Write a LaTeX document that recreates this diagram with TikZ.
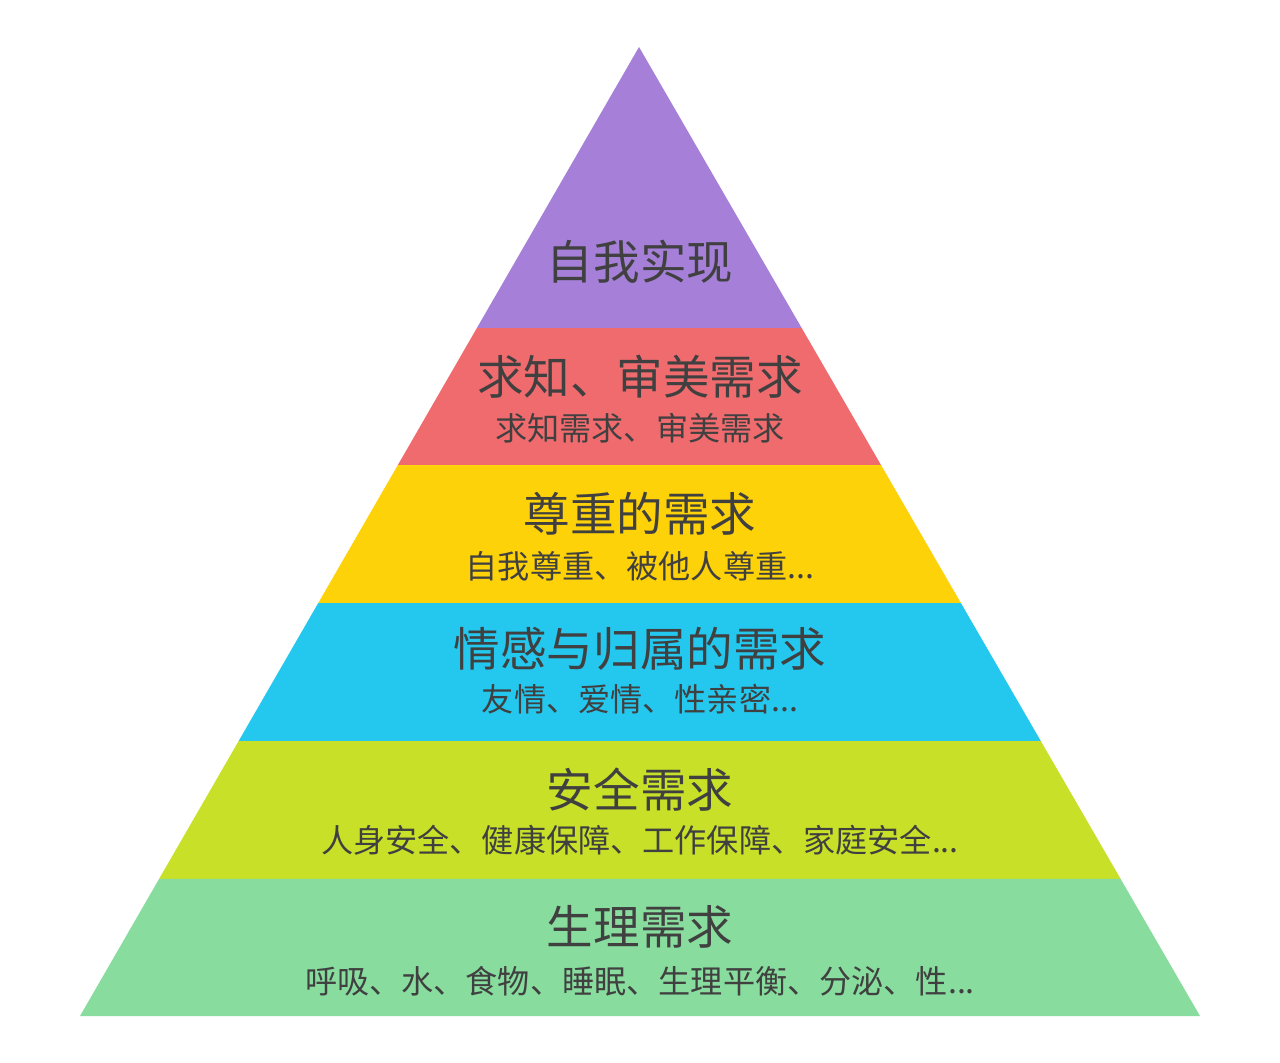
\documentclass[tikz,border=0pt]{standalone}
\usepackage{fontspec}
\setmainfont{Noto Sans CJK SC}
\usepackage{tikz}
\usetikzlibrary{calc}
\definecolor{lavender}{RGB}{165,127,216}
\definecolor{coral}{RGB}{240,107,110}
\definecolor{sunflower}{RGB}{254,210,8}
\definecolor{skyblue}{RGB}{36,200,238}
\definecolor{lime}{RGB}{200,225,40}
\definecolor{mint}{RGB}{136,221,158}
\tikzset{%
    title/.style={font=\fontsize{26.5}{29}\selectfont, text=black!75},
    subtitle/.style={font=\fontsize{18.3}{20}\selectfont, text=black!75}
}

\begin{document}
\begin{tikzpicture}[x=0.02cm,y=-0.02cm]
    \useasboundingbox (0,0) rectangle (1280,1062);
    \fill[white] (0,0) rectangle (1280,1062);

    \coordinate (apex) at (639,47);
    \coordinate (bl) at (80,1016);
    \coordinate (br) at (1200,1016);

    % layers, from the top
    \foreach \col/\a/\b in {lavender/0/0.29, coral/0.29/0.4314, sunflower/0.4314/0.5738,
        skyblue/0.5738/0.7162, lime/0.7162/0.8586, mint/0.8586/1}
        \fill[\col] ($(apex)!\a!(bl)$) -- ($(apex)!\b!(bl)$) -- ($(apex)!\b!(br)$) -- ($(apex)!\a!(br)$) -- cycle;

    \node[title] (self) at (640,262) {自我实现};

    \node[title] (know) at (640,377) {求知、审美需求};
    \node[subtitle] (knowsub) at (640,428) {求知需求、审美需求};

    \node[title] (esteem) at (640,514) {尊重的需求};
    \node[subtitle] (esteemsub) at (640,566) {自我尊重、被他人尊重...};

    \node[title] (love) at (640,649) {情感与归属的需求};
    \node[subtitle] (lovesub) at (640,699) {友情、爱情、性亲密...};

    \node[title] (safety) at (640,790) {安全需求};
    \node[subtitle] (safetysub) at (640,840) {人身安全、健康保障、工作保障、家庭安全...};

    \node[title] (body) at (640,927) {生理需求};
    \node[subtitle] (bodysub) at (640,981) {呼吸、水、食物、睡眠、生理平衡、分泌、性...};
\end{tikzpicture}
\end{document}
